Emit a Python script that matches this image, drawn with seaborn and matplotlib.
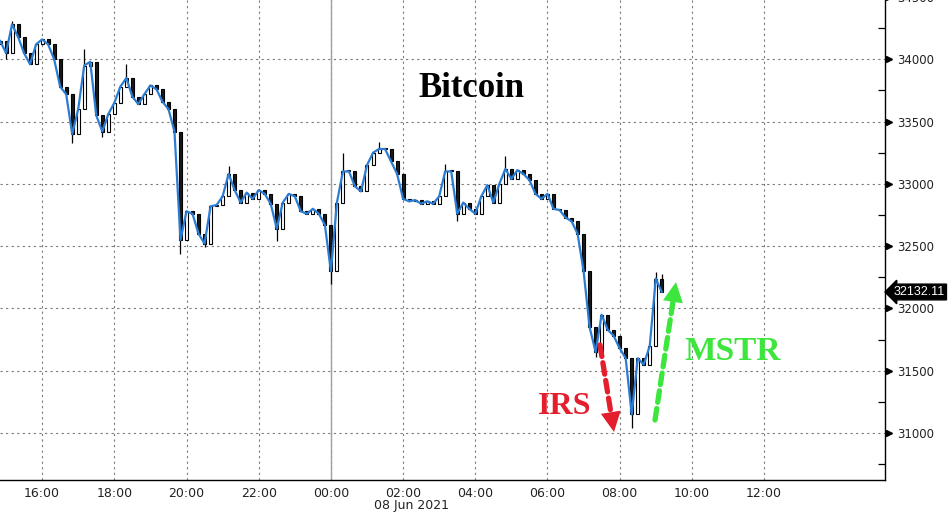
import pandas as pd
import matplotlib
matplotlib.use("Agg")
import matplotlib.pyplot as plt
import matplotlib.dates as mdates
import matplotlib.transforms as mtransforms
import seaborn as sns

# ---- data: 10-minute closes, BTC, from 14:50 on 07 Jun 2021 ----
start_time = "2021-06-07 14:50"
first_open = 34120
closes = [
    34150, 34050, 34280, 34180, 34050, 33960, 34120,            # 14:50 - 15:50
    34160, 34120, 34000, 33780, 33720, 33400,                   # 16:00
    33600, 33950, 33980, 33550, 33420, 33560,                   # 17:00
    33650, 33780, 33850, 33700, 33640, 33720,                   # 18:00
    33790, 33760, 33660, 33600, 33420, 32550,                   # 19:00
    32780, 32760, 32600, 32520, 32820, 32830,                   # 20:00
    32900, 33080, 32950, 32850, 32930, 32880,                   # 21:00
    32950, 32920, 32840, 32640, 32850, 32920,                   # 22:00
    32900, 32780, 32760, 32800, 32760, 32670,                   # 23:00
    32300, 32850, 33100, 33100, 32980, 32940,                   # 00:00
    33150, 33250, 33280, 33280, 33180, 33080,                   # 01:00
    32880, 32860, 32870, 32840, 32860, 32840,                   # 02:00
    32900, 33100, 33100, 32760, 32850, 32800,                   # 03:00
    32760, 32900, 32990, 32850, 33000, 33120,                   # 04:00
    33040, 33110, 33080, 33030, 32920, 32880,                   # 05:00
    32920, 32800, 32790, 32730, 32700, 32600,                   # 06:00
    32300, 31850, 31650, 31950, 31830, 31780,                   # 07:00
    31680, 31600, 31150, 31600, 31550, 31700,                   # 08:00
    32240, 32132.11,                                            # 09:00
]
# wick extremes where the bars spike past their bodies
spike_high_idx = [2, 14, 21, 38, 57, 63, 74, 84, 109, 110]
spike_high_val = [34310, 34080, 33960, 33140, 33250, 33340, 33160, 33220, 32290, 32280]
spike_low_idx = [1, 12, 17, 30, 34, 46, 55, 76, 99, 105]
spike_low_val = [34000, 33330, 33380, 32440, 32490, 32540, 32200, 32700, 31610, 31040]

last_price = 32132.11
y_ticks = [31000, 31500, 32000, 32500, 33000, 33500, 34000, 34500]
x_labels = ["2021-06-07 16:00", "2021-06-07 18:00", "2021-06-07 20:00", "2021-06-07 22:00",
            "2021-06-08 00:00", "2021-06-08 02:00", "2021-06-08 04:00", "2021-06-08 06:00",
            "2021-06-08 08:00", "2021-06-08 10:00", "2021-06-08 12:00"]
x_minor = ["2021-06-07 15:00", "2021-06-07 17:00", "2021-06-07 19:00", "2021-06-07 21:00",
           "2021-06-07 23:00", "2021-06-08 01:00", "2021-06-08 03:00", "2021-06-08 05:00",
           "2021-06-08 07:00", "2021-06-08 09:00", "2021-06-08 11:00", "2021-06-08 13:00"]

BLUE = "#2b7cd3"
RED = "#e41f2d"
GREEN = "#3de63d"

times = pd.date_range(start_time, periods=len(closes), freq="10min")
df = pd.DataFrame({"time": times, "close": closes})
df["open"] = df["close"].shift(1).fillna(first_open)

sns.set_style("white")
plt.rcParams["font.family"] = ["DejaVu Sans"]

fig = plt.figure(figsize=(9.48, 5.14), dpi=100)
ax = fig.add_axes([0, 34 / 514, 885 / 948, 483 / 514])

# candles
w = 10 / 1440 * 0.5
up = df["close"] >= df["open"]
bot = df[["open", "close"]].min(axis=1)
hgt = (df["close"] - df["open"]).abs().clip(lower=8)
ax.bar(df["time"][up], hgt[up], bottom=bot[up], width=w, color="white",
       edgecolor="black", linewidth=0.8, zorder=2)
ax.bar(df["time"][~up], hgt[~up], bottom=bot[~up], width=w, color="#1a1a1a",
       edgecolor="black", linewidth=0.8, zorder=2)
for i, v in zip(spike_high_idx, spike_high_val):
    ax.vlines(df["time"][i], max(df["open"][i], df["close"][i]), v, color="black", lw=0.9, zorder=2)
for i, v in zip(spike_low_idx, spike_low_val):
    ax.vlines(df["time"][i], v, min(df["open"][i], df["close"][i]), color="black", lw=0.9, zorder=2)

sns.lineplot(data=df, x="time", y="close", ax=ax, color=BLUE, lw=1.6, zorder=3)

ax.set_xlim(pd.Timestamp("2021-06-07 14:50"), pd.Timestamp("2021-06-08 15:21"))
ax.set_ylim(30623, 34500)
ax.set_xlabel("")
ax.set_ylabel("")

# grid
ax.grid(True, which="major", ls=(0, (2, 3)), color="#7a7a7a", lw=0.8)
ax.axvline(pd.Timestamp("2021-06-08 00:00"), color="#a0a0a0", lw=1.0, zorder=1)

for s in ["left", "top"]:
    ax.spines[s].set_visible(False)
for s in ["right", "bottom"]:
    ax.spines[s].set_color("black")
    ax.spines[s].set_linewidth(1.0)

# x axis
ax.set_xticks(pd.to_datetime(x_labels))
ax.set_xticks(pd.to_datetime(x_minor), minor=True)
ax.xaxis.set_major_formatter(mdates.DateFormatter("%H:%M"))
ax.tick_params(axis="x", which="major", length=0, pad=5, labelsize=9, labelcolor="#222222")
ax.tick_params(axis="x", which="minor", length=5, width=0.9, direction="out", color="black")

# y axis on the right
ax.yaxis.tick_right()
ax.set_yticks(y_ticks)
ax.set_yticks([t - 250 for t in y_ticks], minor=True)
ax.tick_params(axis="y", which="major", length=0, pad=9, labelsize=8.5, labelcolor="#222222")
ax.tick_params(axis="y", which="minor", length=5, width=0.9, direction="in", color="black")
tri = mtransforms.blended_transform_factory(ax.transAxes, ax.transData) + \
    mtransforms.ScaledTranslation(3.5 / 100, 0, fig.dpi_scale_trans)
ax.plot([1] * len(y_ticks), y_ticks, ls="none", marker=">", ms=5, color="black",
        transform=tri, clip_on=False)

# last price tag
ax.annotate(f"{last_price:.2f}", xy=(1, last_price),
            xycoords=mtransforms.blended_transform_factory(ax.transAxes, ax.transData),
            xytext=(6, 0), textcoords="offset points", ha="left", va="center",
            fontsize=9, family="Liberation Sans", color="white", annotation_clip=False,
            bbox=dict(boxstyle="larrow,pad=0.15", fc="black", ec="black"))

fig.text(412 / 948, 1 - 506 / 514, "08 Jun 2021", ha="center", va="center",
         fontsize=9, color="#222222")

# annotations
def fp(px, py):
    return (px / 948, 1 - py / 514)

fig.text(*fp(471, 88), "Bitcoin", ha="center", va="center", fontsize=25,
         fontweight="bold", family="Liberation Serif", color="black")
fig.text(*fp(565, 406), "IRS", ha="center", va="center", fontsize=23,
         fontweight="bold", family="Liberation Serif", color=RED)
fig.text(*fp(733, 351), "MSTR", ha="center", va="center", fontsize=24,
         fontweight="bold", family="Liberation Serif", color=GREEN)

def dashed_arrow(tail, base, tip, color):
    ax.annotate("", xy=fp(*base), xytext=fp(*tail), xycoords="figure fraction",
                arrowprops=dict(arrowstyle="-", ls=(0, (2.2, 1.2)), lw=3.8,
                                color=color, shrinkA=0, shrinkB=0))
    ax.annotate("", xy=fp(*tip), xytext=fp(*base), xycoords="figure fraction",
                arrowprops=dict(arrowstyle="-|>,head_length=0.8,head_width=0.4",
                                mutation_scale=18, lw=0, color=color,
                                shrinkA=0, shrinkB=0))

dashed_arrow((600, 345), (611.6, 417.2), (614, 432), RED)
dashed_arrow((655, 420), (673.7, 296.8), (676, 282), GREEN)

fig.savefig("out.png", dpi=100)
